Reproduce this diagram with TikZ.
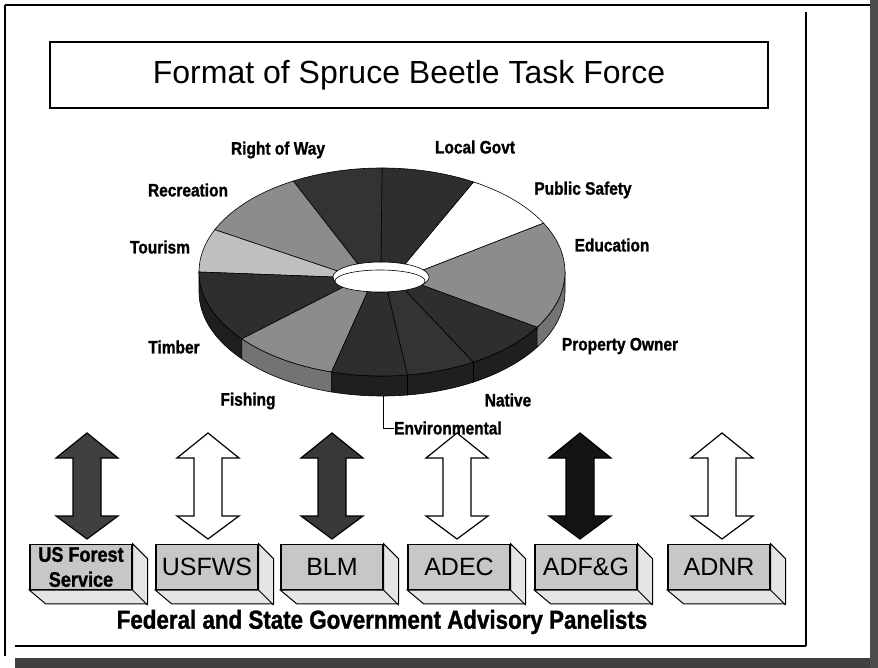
\documentclass[tikz,border=0pt]{standalone}
\usepackage{fontspec}
\setmainfont{Liberation Sans}
\newfontfamily\panelfont[FakeStretch=0.86, BoldFeatures={FakeBold=1.2}]{Liberation Sans}
\usetikzlibrary{positioning,calc}

\begin{document}
\begin{tikzpicture}[x=1pt,y=-1pt,
	pielbl/.style={font=\panelfont\bfseries\fontsize{18}{20}\selectfont, inner sep=0pt},
	panelbox/.style={draw, line width=1.3pt, fill=black!22, minimum width=102pt, minimum height=45pt, inner sep=0pt, font=\fontsize{25}{25}\selectfont},
	boxside/.style={draw, line width=1pt, fill=black!10},
	rule/.style={line width=1.4pt}]
	\useasboundingbox (0,0) rectangle (878,668);
	% page edges
	\fill[black!75] (15,658) rectangle (878,668);
	\fill[black!70] (870,0) rectangle (878,668);
	\draw[rule] (5,5) -- (870,5);
	\draw[rule] (5,5) -- (5,656);
	\draw[rule] (806,12) -- (806,646);
	\draw[rule] (15,646) -- (806,646);

	\node[draw, line width=1.2pt, minimum width=718pt, minimum height=66pt, font=\fontsize{32}{32}\selectfont] (title) at (409,75) {Format of Spruce Beetle Task Force};

	% donut: side wall, then top face
	\foreach \a/\b/\c in {180/220/black!88, 220/254/black!55, 254/278/black!88, 278/300/black!88, 300/328/black!88, 328/360/black!55}
		\filldraw[fill=\c, line width=0.6pt] plot[domain=\a:\b, samples=16] ({382+183*cos(\x)},{272-104*sin(\x)}) -- plot[domain=\b:\a, samples=16] ({382+183*cos(\x)},{292-104*sin(\x)}) -- cycle;
	\foreach \a/\b/\c in {28/60/white, 60/90/black!82, 90/119/black!80, 119/156/black!45, 156/180/black!25, 180/220/black!82, 220/254/black!45, 254/278/black!82, 278/300/black!80, 300/328/black!82, 328/388/black!45}
		\filldraw[fill=\c, line width=0.6pt] plot[domain=\a:\b, samples=12] ({381+48*cos(\x)},{277-15*sin(\x)}) -- plot[domain=\b:\a, samples=30] ({382+183*cos(\x)},{272-104*sin(\x)}) -- cycle;
	\filldraw[fill=white, line width=0.6pt] (380,281) ellipse [x radius=45, y radius=11];

	\node[pielbl] (row) at (278,150) {Right of Way};
	\node[pielbl] (govt) at (475,147) {Local Govt};
	\node[pielbl] (safety) at (583,190) {Public Safety};
	\node[pielbl] (edu) at (612,245) {Education};
	\node[pielbl] (owner) at (620,346) {Property Owner};
	\node[pielbl] (native) at (508,400) {Native};
	\node[pielbl, anchor=west] (env) at (394,428) {Environmental};
	\node[pielbl] (fish) at (248,401) {Fishing};
	\node[pielbl] (timber) at (174,347) {Timber};
	\node[pielbl] (tour) at (160,247) {Tourism};
	\node[pielbl] (rec) at (188,190) {Recreation};
	\coordinate (envtop) at (383,396);
	\draw[line width=1pt] (envtop) |- (env.west);

	% double arrows
	\foreach \cx/\c in {87/black!75, 208/white, 332/black!78, 457/white, 580/black!92, 722/white}
		\filldraw[fill=\c, line width=1.2pt] (\cx,433) -- ({\cx+31},458) -- ({\cx+14},458) -- ({\cx+14},516) -- ({\cx+31},516) -- (\cx,539) -- ({\cx-31},516) -- ({\cx-14},516) -- ({\cx-14},458) -- ({\cx-31},458) -- cycle;

	% panel boxes
	\node[panelbox, align=center, font=\panelfont\bfseries\fontsize{21}{25}\selectfont] (usfs) at (81,567) {US Forest\\Service};
	\node[panelbox] (usfws) at (207,567) {USFWS};
	\node[panelbox] (blm) at (332,567) {BLM};
	\node[panelbox] (adec) at (459,567) {ADEC};
	\node[panelbox] (adfg) at (586,567) {ADF\&G};
	\node[panelbox] (adnr) at (719,567) {ADNR};
	\foreach \b in {usfs,usfws,blm,adec,adfg,adnr} {
		\filldraw[boxside] (\b.north east) -- ++(15,15) -- ++(0,45) -- ++(-102,0) -- (\b.south west) -- (\b.south east) -- cycle;
		\draw[line width=1pt] (\b.south east) -- ++(15,15);
	}

	\node[pielbl, font=\panelfont\bfseries\fontsize{26}{28}\selectfont] (caption) at (382,622) {Federal and State Government Advisory Panelists};
\end{tikzpicture}
\end{document}
